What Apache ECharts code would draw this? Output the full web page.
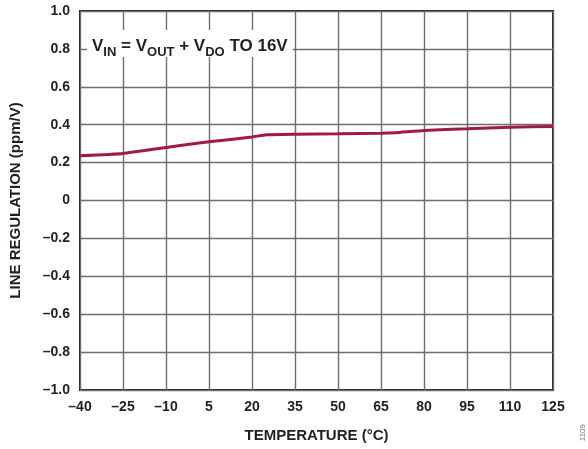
<!DOCTYPE html>
<html>
<head>
<meta charset="utf-8">
<script src="https://cdn.jsdelivr.net/npm/echarts@6/dist/echarts.min.js"></script>
<style>
html,body{margin:0;padding:0;background:#fff;}
#main{width:588px;height:449px;}
</style>
</head>
<body>
<div id="main"></div>
<script>
var temps = [-40, -25, -10, 5, 20, 25, 35, 50, 65, 70, 80, 95, 110, 125];
var lineReg = [0.236, 0.248, 0.28, 0.31, 0.335, 0.347, 0.35, 0.352, 0.355, 0.358, 0.37, 0.378, 0.386, 0.391];
var xTicks = [-40, -25, -10, 5, 20, 35, 50, 65, 80, 95, 110, 125];

function dash(s){ return String(s).replace('-', '\u2013'); }

var pts = [];
for (var i = 0; i < temps.length; i++) pts.push([temps[i], lineReg[i]]);

var font = '"Liberation Sans", Arial, sans-serif';
var chart = echarts.init(document.getElementById('main'));
var option = {
    animation: false,
    grid: { left: 79, right: 35, top: 11, bottom: 59, show: true, borderColor: '#231f20', borderWidth: 2 },
    xAxis: {
        type: 'value', min: -40, max: 125, interval: 15,
        name: 'TEMPERATURE (\u00b0C)', nameLocation: 'middle', nameGap: 38,
        nameTextStyle: { fontFamily: font, fontWeight: 'bold', fontSize: 15, color: '#231f20' },
        axisLine: { show: false },
        axisTick: { show: false },
        splitLine: { lineStyle: { color: '#6e6e6e', width: 1.4 } },
        axisLabel: { fontFamily: font, fontWeight: 'bold', fontSize: 14, color: '#231f20', margin: 10,
            formatter: function (v) { return dash(v); } }
    },
    yAxis: {
        type: 'value', min: -1, max: 1, interval: 0.2,
        name: 'LINE REGULATION (ppm/V)', nameLocation: 'middle', nameGap: 57,
        nameTextStyle: { fontFamily: font, fontWeight: 'bold', fontSize: 15, color: '#231f20' },
        axisLine: { show: false },
        axisTick: { show: false },
        splitLine: { lineStyle: { color: '#6e6e6e', width: 1.4 } },
        axisLabel: { fontFamily: font, fontWeight: 'bold', fontSize: 14, color: '#231f20', margin: 10,
            formatter: function (v) { return Math.abs(v) < 1e-9 ? '0' : dash(v.toFixed(1)); } }
    },
    series: [{
        type: 'line', data: pts, symbol: 'none', smooth: 0.15,
        lineStyle: { color: '#a01a46', width: 3 }
    }],
    graphic: [
        {
            type: 'text', left: 87, top: 30, z: 10,
            style: {
                text: '{b|V}{s|IN}{b| = V}{s|OUT}{b| + V}{s|DO}{b| TO 16V}',
                backgroundColor: '#fff', padding: [2, 5, 2, 5],
                rich: {
                    b: { fontFamily: font, fontWeight: 'bold', fontSize: 17, fill: '#231f20', verticalAlign: 'bottom', lineHeight: 23 },
                    s: { fontFamily: font, fontWeight: 'bold', fontSize: 13, fill: '#231f20', verticalAlign: 'bottom', lineHeight: 16, padding: [0, 0, -4, 0] }
                }
            }
        },
        {
            type: 'text', left: 579, top: 424, rotation: Math.PI / 2,
            style: { text: '1109', fontFamily: font, fontSize: 8, fill: '#777' }
        }
    ]
};
chart.setOption(option);
</script>
</body>
</html>
